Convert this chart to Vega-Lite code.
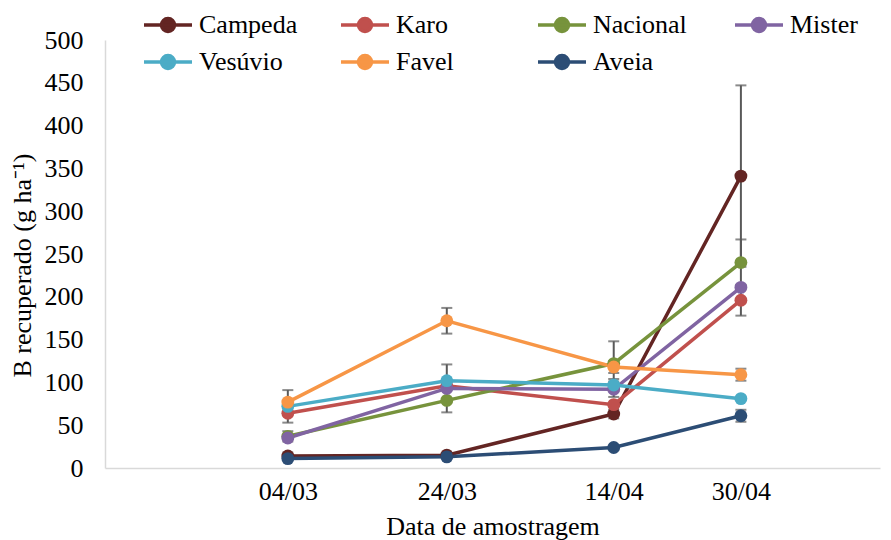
{
  "$schema": "https://vega.github.io/schema/vega-lite/v6.json",
  "width": 775,
  "height": 428,
  "autosize": {"type": "none"},
  "padding": {"left": 105, "top": 40, "right": 11, "bottom": 72},
  "background": "white",
  "config": {
    "font": "Liberation Serif",
    "view": {"stroke": null},
    "axis": {
      "grid": false,
      "ticks": false,
      "tickSize": 0,
      "domainColor": "#d9d9d9",
      "domainWidth": 1.5,
      "labelFont": "Liberation Serif",
      "labelFontSize": 26,
      "labelColor": "#000000",
      "titleFont": "Liberation Serif",
      "titleFontSize": 26,
      "titleFontWeight": "normal",
      "titleColor": "#000000"
    }
  },
  "data": {
    "values": [
      {"serie": "Campeda", "data": "2016-03-04", "valor": 14, "erro": 4},
      {"serie": "Campeda", "data": "2016-03-24", "valor": 15, "erro": 0},
      {"serie": "Campeda", "data": "2016-04-14", "valor": 63, "erro": 5},
      {"serie": "Campeda", "data": "2016-04-30", "valor": 341, "erro": 106},
      {"serie": "Karo", "data": "2016-03-04", "valor": 64, "erro": 0},
      {"serie": "Karo", "data": "2016-03-24", "valor": 96, "erro": 0},
      {"serie": "Karo", "data": "2016-04-14", "valor": 74, "erro": 0},
      {"serie": "Karo", "data": "2016-04-30", "valor": 196, "erro": 18},
      {"serie": "Nacional", "data": "2016-03-04", "valor": 37, "erro": 6},
      {"serie": "Nacional", "data": "2016-03-24", "valor": 79, "erro": 0},
      {"serie": "Nacional", "data": "2016-04-14", "valor": 122, "erro": 26},
      {"serie": "Nacional", "data": "2016-04-30", "valor": 240, "erro": 27},
      {"serie": "Mister", "data": "2016-03-04", "valor": 35, "erro": 0},
      {"serie": "Mister", "data": "2016-03-24", "valor": 93, "erro": 28},
      {"serie": "Mister", "data": "2016-04-14", "valor": 92, "erro": 9},
      {"serie": "Mister", "data": "2016-04-30", "valor": 211, "erro": 0},
      {"serie": "Vesúvio", "data": "2016-03-04", "valor": 72, "erro": 19},
      {"serie": "Vesúvio", "data": "2016-03-24", "valor": 102, "erro": 0},
      {"serie": "Vesúvio", "data": "2016-04-14", "valor": 97, "erro": 7},
      {"serie": "Vesúvio", "data": "2016-04-30", "valor": 81, "erro": 0},
      {"serie": "Favel", "data": "2016-03-04", "valor": 77, "erro": 0},
      {"serie": "Favel", "data": "2016-03-24", "valor": 172, "erro": 15},
      {"serie": "Favel", "data": "2016-04-14", "valor": 118, "erro": 7},
      {"serie": "Favel", "data": "2016-04-30", "valor": 109, "erro": 7},
      {"serie": "Aveia", "data": "2016-03-04", "valor": 11, "erro": 0},
      {"serie": "Aveia", "data": "2016-03-24", "valor": 13, "erro": 0},
      {"serie": "Aveia", "data": "2016-04-14", "valor": 24, "erro": 0},
      {"serie": "Aveia", "data": "2016-04-30", "valor": 61, "erro": 7}
    ]
  },
  "encoding": {
    "x": {
      "field": "data",
      "type": "temporal",
      "scale": {
        "type": "utc",
        "domain": [
          {"year": 2016, "month": 2, "date": 10, "utc": true},
          {"year": 2016, "month": 5, "date": 17, "hours": 12, "utc": true}
        ]
      },
      "axis": {
        "values": [
          {"year": 2016, "month": 3, "date": 4, "utc": true},
          {"year": 2016, "month": 3, "date": 24, "utc": true},
          {"year": 2016, "month": 4, "date": 14, "utc": true},
          {"year": 2016, "month": 4, "date": 30, "utc": true}
        ],
        "format": "%d/%m",
        "labelPadding": 10,
        "labelFlush": false,
        "labelOverlap": false,
        "title": "Data de amostragem",
        "titleY": 58,
        "titleBaseline": "middle"
      }
    },
    "y": {
      "field": "valor",
      "type": "quantitative",
      "scale": {"domain": [0, 500], "nice": false},
      "axis": {
        "values": [0, 50, 100, 150, 200, 250, 300, 350, 400, 450, 500],
        "labelPadding": 22,
        "title": "B recuperado (g ha⁻¹)",
        "titleX": -83,
        "titleY": 225,
        "titleAngle": -90,
        "titleAlign": "center",
        "titleBaseline": "middle"
      }
    }
  },
  "layer": [
    {
      "transform": [{"filter": "datum.erro > 0"}],
      "mark": {
        "type": "errorbar",
        "color": "#595959",
        "ticks": {"size": 11, "thickness": 2, "color": "#595959"},
        "rule": {"strokeWidth": 2, "color": "#595959"}
      },
      "encoding": {
        "yError": {"field": "erro"}
      }
    },
    {
      "mark": {
        "type": "line",
        "strokeWidth": 3.5,
        "point": {"filled": true, "size": 165, "opacity": 1}
      },
      "encoding": {
        "color": {
          "field": "serie",
          "type": "nominal",
          "scale": {
            "domain": ["Campeda", "Karo", "Nacional", "Mister", "Vesúvio", "Favel", "Aveia"],
            "range": ["#632523", "#c0504d", "#77933c", "#8064a2", "#4bacc6", "#f79646", "#2c4d75"]
          },
          "legend": {
            "orient": "none",
            "legendX": 37,
            "legendY": -28,
            "direction": "horizontal",
            "columns": 4,
            "title": null,
            "symbolType": "M-1,0L1,0M-0.27,0A0.27,0.27,0,1,1,0.27,0A0.27,0.27,0,1,1,-0.27,0",
            "symbolSize": 2304,
            "symbolStrokeWidth": 3.5,
            "labelFont": "Liberation Serif",
            "labelFontSize": 26,
            "labelColor": "#000000",
            "labelOffset": 5,
            "labelLimit": 300,
            "columnPadding": 41,
            "rowPadding": 11,
            "clipHeight": 26,
            "gridAlign": "all",
            "encode": {
              "symbols": {
                "update": {
                  "fill": {"scale": "color", "field": "value"},
                  "stroke": {"scale": "color", "field": "value"},
                  "opacity": {"value": 1}
                }
              }
            }
          }
        }
      }
    }
  ]
}
